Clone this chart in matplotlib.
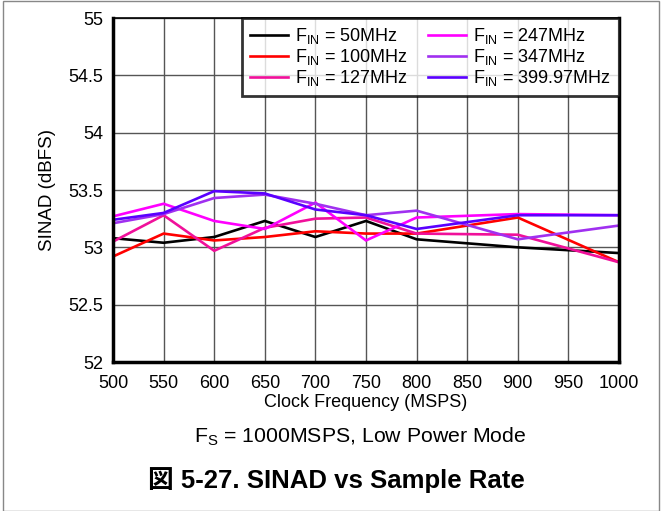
import matplotlib
matplotlib.use("Agg")
import matplotlib.pyplot as plt
from matplotlib.patches import Rectangle

plt.rcParams['font.family'] = ['Liberation Sans', 'Noto Sans CJK JP', 'DejaVu Sans']

clock = [500, 550, 600, 650, 700, 750, 800, 900, 1000]
fin_50 = [53.08, 53.04, 53.09, 53.23, 53.09, 53.23, 53.07, 53.00, 52.95]
fin_100 = [52.92, 53.12, 53.06, 53.09, 53.14, 53.12, 53.12, 53.26, 52.87]
fin_127 = [53.05, 53.28, 52.97, 53.17, 53.25, 53.26, 53.12, 53.11, 52.87]
fin_247 = [53.27, 53.38, 53.23, 53.16, 53.39, 53.06, 53.26, 53.29, 53.28]
fin_347 = [53.21, 53.29, 53.43, 53.46, 53.38, 53.28, 53.32, 53.07, 53.19]
fin_400 = [53.24, 53.30, 53.49, 53.47, 53.33, 53.28, 53.16, 53.28, 53.28]

labels = ['F$_{\\mathregular{IN}}$ = 50MHz', 'F$_{\\mathregular{IN}}$ = 100MHz',
          'F$_{\\mathregular{IN}}$ = 127MHz', 'F$_{\\mathregular{IN}}$ = 247MHz',
          'F$_{\\mathregular{IN}}$ = 347MHz', 'F$_{\\mathregular{IN}}$ = 399.97MHz']
colors = ['#000000', '#FF0000', '#F0109A', '#FF00FF', '#A030F0', '#5A00FF']
series = [fin_50, fin_100, fin_127, fin_247, fin_347, fin_400]

W, H = 662, 511
fig = plt.figure(figsize=(W/100, H/100), dpi=100)
ax = fig.add_axes([113/W, 1 - 362/H, (619-113)/W, (362-18)/H])

for ys, c, lab in zip(series, colors, labels):
    ax.plot(clock, ys, color=c, lw=1.9, label=lab, solid_joinstyle='miter')

ax.set_xlim(500, 1000)
ax.set_ylim(52, 55)
ax.set_xticks(range(500, 1001, 50))
ax.set_yticks([52, 52.5, 53, 53.5, 54, 54.5, 55])
ax.set_yticklabels(['52', '52.5', '53', '53.5', '54', '54.5', '55'])
ax.grid(True, color='#555555', lw=1.0)
ax.tick_params(length=0, labelsize=13)
ax.tick_params(axis='x', pad=9)
ax.tick_params(axis='y', pad=7)
for s in ax.spines.values():
    s.set_linewidth(2.5)
ax.spines['top'].set_linewidth(1.2)
ax.set_xlabel('Clock Frequency (MSPS)', fontsize=13, labelpad=2)
ax.set_ylabel('SINAD (dBFS)', fontsize=13.5, labelpad=9)

leg = ax.legend(ncol=2, loc='upper right', fontsize=13, frameon=True, fancybox=False,
                borderaxespad=0, handlelength=2.1, columnspacing=1.1, labelspacing=0.05,
                handletextpad=0.4, borderpad=0.45)
leg.get_frame().set_edgecolor('black')
leg.get_frame().set_linewidth(2.0)

fig.text(360/W, 1 - 437/H, 'F$_{\\mathregular{S}}$ = 1000MSPS, Low Power Mode', ha='center', va='center', fontsize=15.3)
fig.text(336/W, 1 - 480/H, '図 5-27. SINAD vs Sample Rate', ha='center', va='center', fontsize=18.5, fontweight='bold')

fig.patches.append(Rectangle((3/W, 0.5/H), (W-6)/W, (H-2)/H, transform=fig.transFigure,
                             fill=False, edgecolor='#888888', lw=1.0))

fig.savefig('out.png', dpi=100)
